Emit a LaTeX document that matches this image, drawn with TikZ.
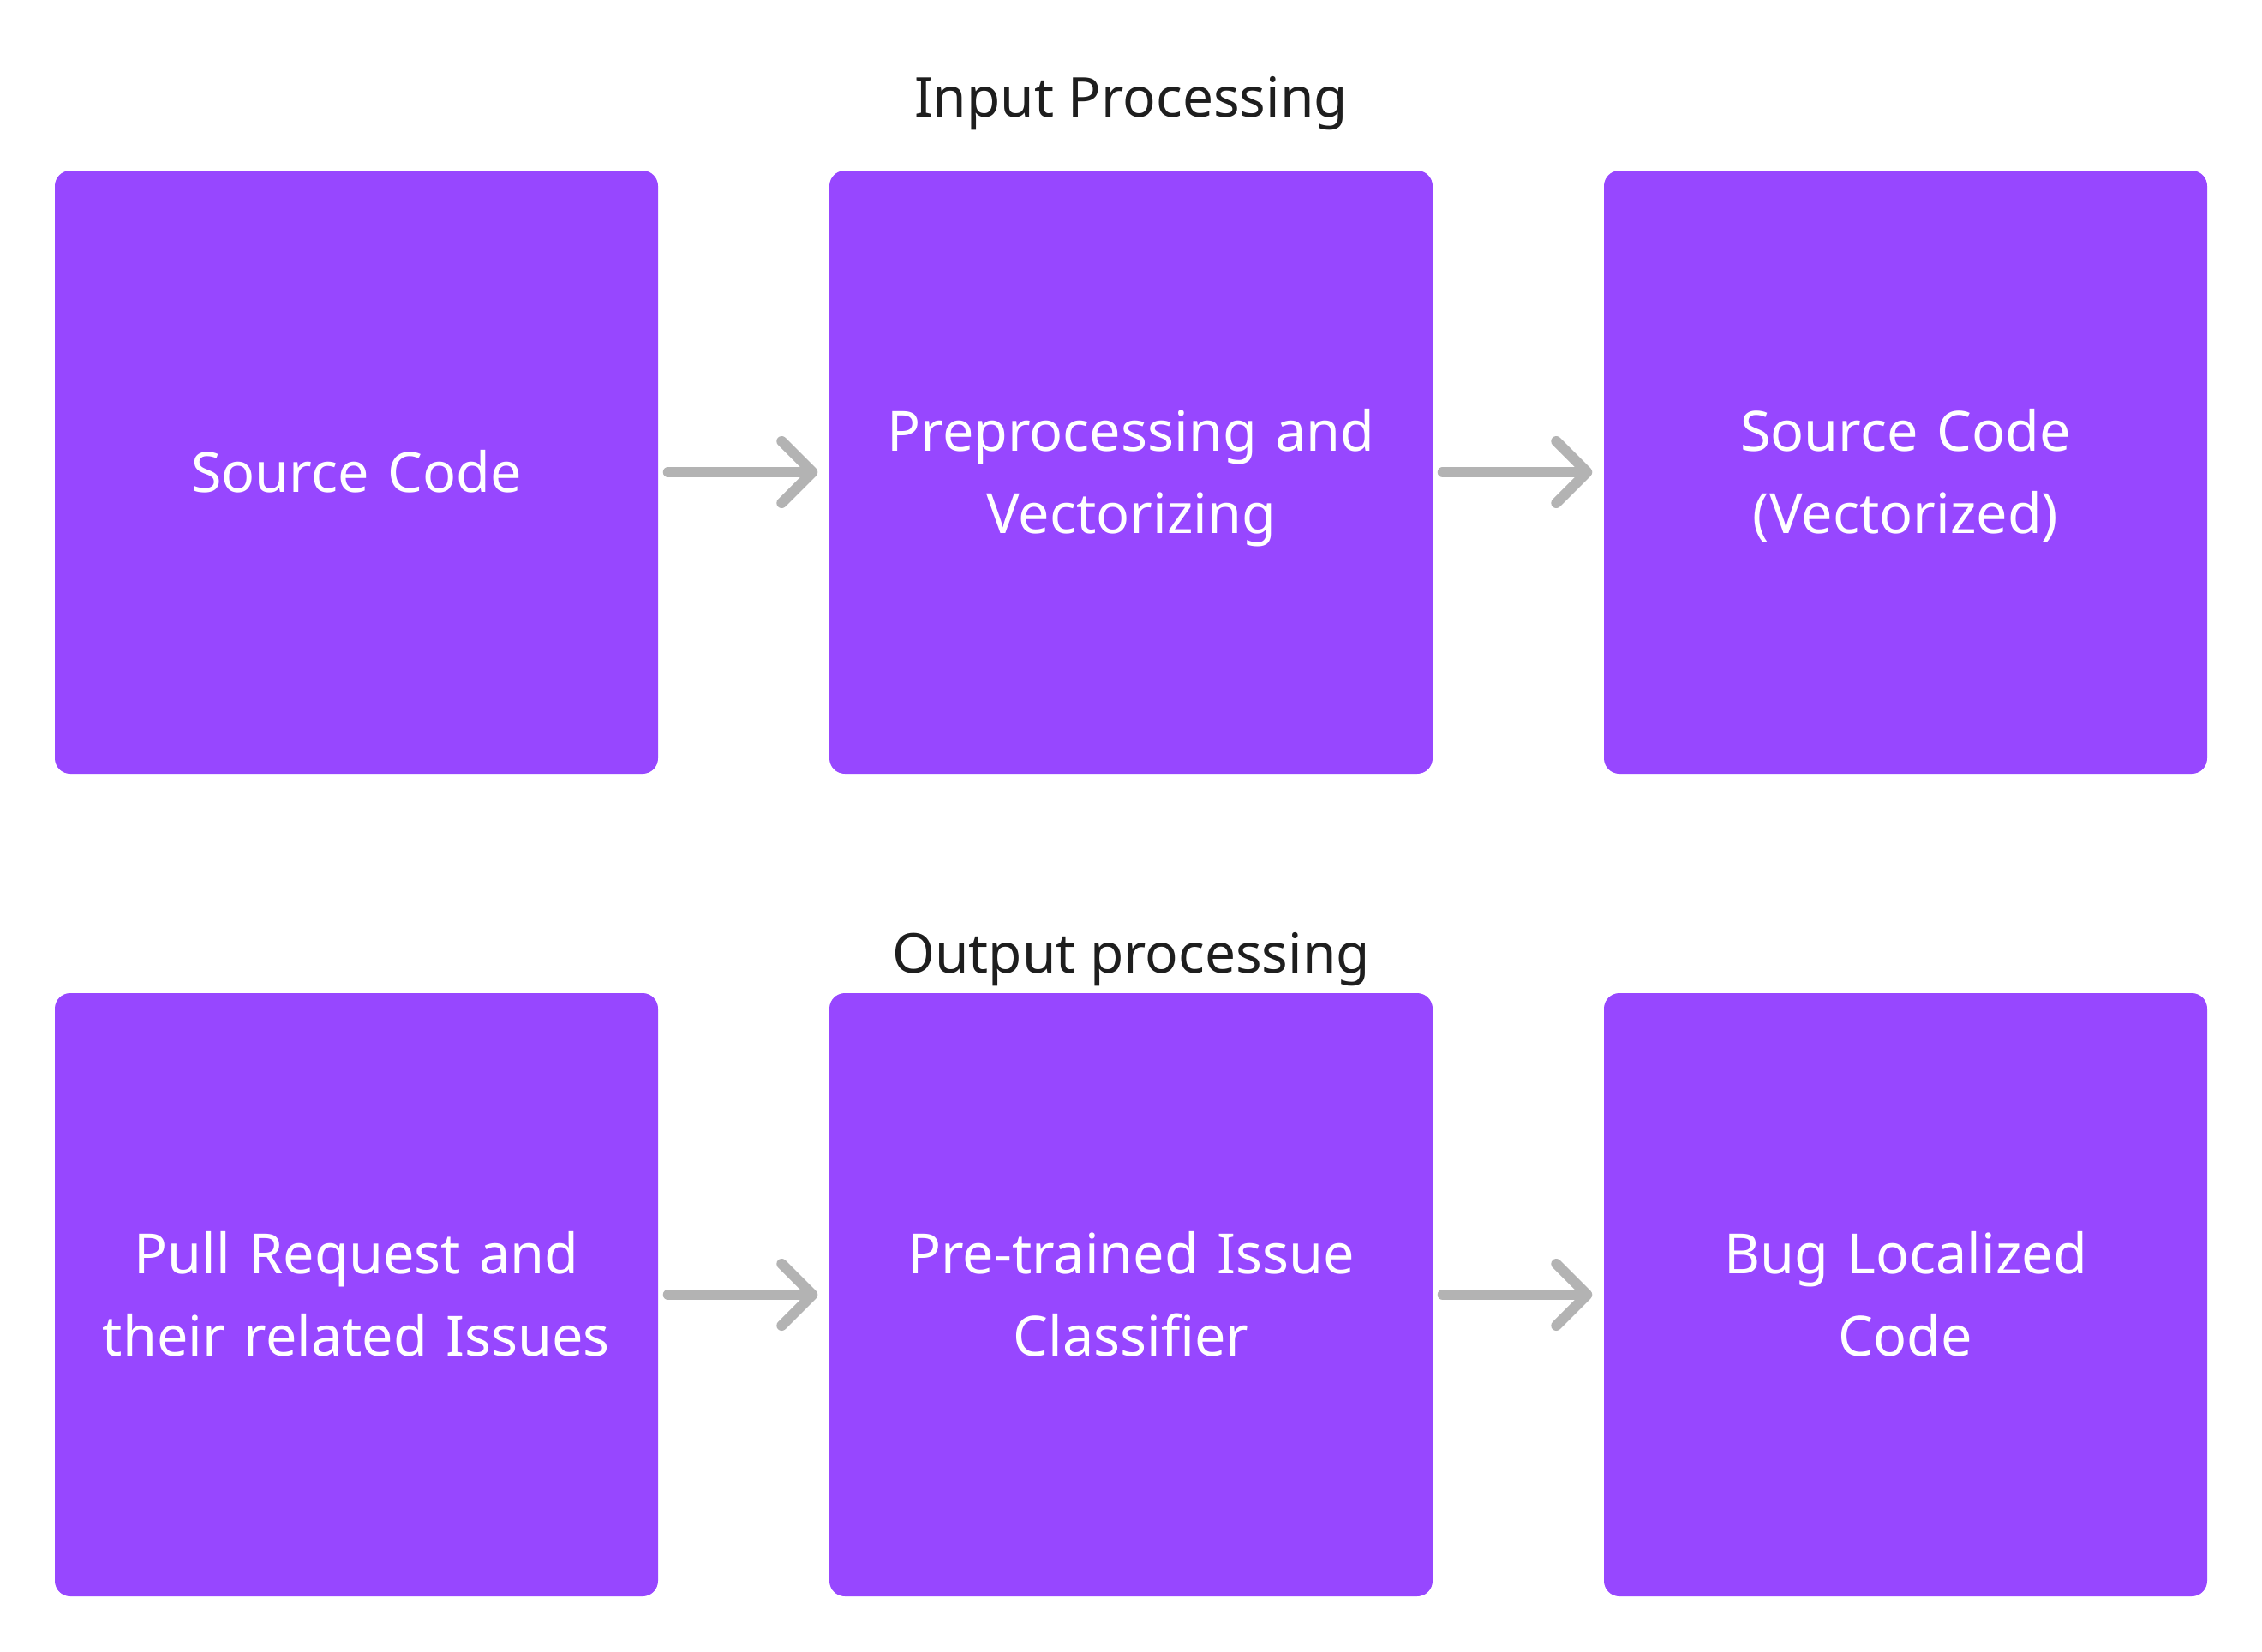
\documentclass[tikz,border=0pt]{standalone}
\usepackage{fontspec}
\setmainfont{Noto Sans}
\usepackage{tikz}
\usetikzlibrary{arrows.meta}
\definecolor{boxpurple}{HTML}{9747FF}
\definecolor{arrowgrey}{HTML}{B3B3B3}
\definecolor{titleink}{HTML}{1E1E1E}
\tikzset{
stage/.style={shape=rectangle, fill=boxpurple, rounded corners=0.18cm, minimum width=7.04cm, minimum height=7.04cm, inner sep=0pt, text=white, text width=6.6cm, align=center, font=\fontsize{18.4}{27.3}\selectfont,
  execute at begin node={\rule{0pt}{19pt}}, execute at end node={\rule[-5.4pt]{0pt}{5.4pt}}},
heading/.style={anchor=base, text=titleink, inner sep=0pt, font=\fontsize{18.2}{23}\selectfont},
flow/.style={draw=arrowgrey, line width=0.12cm, line cap=round, shorten <=0.11cm, shorten >=0.13cm, -{Straight Barb[length=0.36cm, width=0.72cm, line cap=round, line join=round]}}
}

\begin{document}
\begin{tikzpicture}
    \useasboundingbox (0,0) rectangle (26.4,-19.28);

                \node[heading] (T1) at (13.2,-1.36) {Input Processing};
                \node[heading] (T2) at (13.2,-11.35) {Output processing};

                \node[stage] (A) at (4.16,-5.51) {Source Code};
                \node[stage] (B) at (13.20,-5.51) {Preprocessing and\\Vectorizing};
                \node[stage] (C) at (22.24,-5.51) {Source Code\\(Vectorized)};
                \node[stage] (D) at (4.16,-15.11) {Pull Request and\\their related Issues};
                \node[stage] (E) at (13.20,-15.11) {Pre-trained Issue\\Classifier};
                \node[stage] (F) at (22.24,-15.11) {Bug Localized\\Code};

                \draw[flow] (A) -- (B);
                \draw[flow] (B) -- (C);
                \draw[flow] (D) -- (E);
                \draw[flow] (E) -- (F);

            \end{tikzpicture}
\end{document}
